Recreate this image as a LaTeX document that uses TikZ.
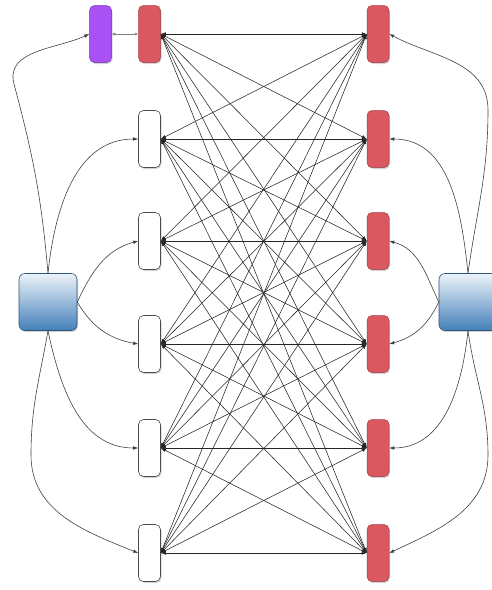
\documentclass[tikz,border=0pt]{standalone}
\usetikzlibrary{arrows.meta,shadows}
\definecolor{cellred}{RGB}{218,88,96}
\definecolor{cellredline}{RGB}{160,60,66}
\definecolor{cellpurple}{RGB}{168,82,246}
\definecolor{cellpurpleline}{RGB}{115,50,175}
\definecolor{boxtop}{RGB}{236,243,249}
\definecolor{boxbottom}{RGB}{68,128,186}
\definecolor{boxline}{RGB}{45,85,125}
\begin{document}
\begin{tikzpicture}[x=1pt,y=1pt,
 cell/.style={rounded corners=5pt,minimum width=22pt,minimum height=57pt,inner sep=0pt,
   drop shadow={opacity=.35,shadow xshift=1pt,shadow yshift=-1.5pt}},
 whitecell/.style={cell,draw=black!70,fill=white,line width=.6pt},
 redcell/.style={cell,draw=cellredline,fill=cellred,line width=.5pt},
 purplecell/.style={cell,draw=cellpurpleline,fill=cellpurple,line width=.5pt},
 sidebox/.style={rounded corners=6pt,minimum width=58pt,minimum height=57pt,inner sep=0pt,
   draw=boxline,line width=.6pt,top color=boxtop,bottom color=boxbottom,
   drop shadow={opacity=.35,shadow xshift=1pt,shadow yshift=-1.5pt}},
 link/.style={black!85,line width=.55pt,{Latex[length=5pt,width=3.6pt]}-{Latex[length=5pt,width=3.6pt]}},
 feed/.style={black!75,line width=.6pt,-{Latex[length=5pt,width=3.6pt]}}]
 \useasboundingbox (0,0) rectangle (492,-590);
 \clip (0,0) rectangle (492,-590);
 % columns
 \node[purplecell] (p) at (100.5,-34) {};
 \node[redcell] (l1) at (149.5,-34) {};
 \foreach \i/\y in {2/-139,3/-241,4/-344,5/-448,6/-553}
  \node[whitecell] (l\i) at (149.5,\y) {};
 \foreach \i/\y in {1/-34,2/-139,3/-241,4/-344,5/-448,6/-553}
  \node[redcell] (r\i) at (378,\y) {};
 \node[sidebox] (bl) at (48,-302) {};
 \node[sidebox] (br) at (468,-302) {};
 % all to all
 \foreach \i in {1,...,6}
  \foreach \j in {1,...,6}
   \draw[link] (l\i.east) -- (r\j.west);
 \draw[black!50,line width=.5pt,{Latex[length=3.5pt,width=3pt]}-{Latex[length=3.5pt,width=3pt]}]
  (p.east) -- (l1.west);
 % left feeds
 \draw[feed] (bl.north) to[out=95,in=-75] (14,-84) to[out=105,in=205] (p.west);
 \draw[feed] (bl.north) to[out=84,in=180] (l2.west);
 \draw[feed] (bl.east) to[out=65,in=195] (l3.west);
 \draw[feed] (bl.east) to[out=-60,in=170] (l4.west);
 \draw[feed] (bl.south) to[out=-78,in=180] (l5.west);
 \draw[feed] (bl.south) to[out=-100,in=90] (31,-455) to[out=-90,in=158] (l6.west);
 % right feeds
 \draw[feed] (br.north) to[out=82,in=-90] (488,-110) to[out=90,in=-28] (r1.east);
 \draw[feed] (br.north) to[out=96,in=0] (r2.east);
 \draw[feed] (br.west) to[out=115,in=-15] (r3.east);
 \draw[feed] (br.west) to[out=-115,in=15] (r4.east);
 \draw[feed] (br.south) to[out=-96,in=0] (r5.east);
 \draw[feed] (br.south) to[out=-82,in=90] (488,-455) to[out=-90,in=25] (r6.east);
\end{tikzpicture}
\end{document}
